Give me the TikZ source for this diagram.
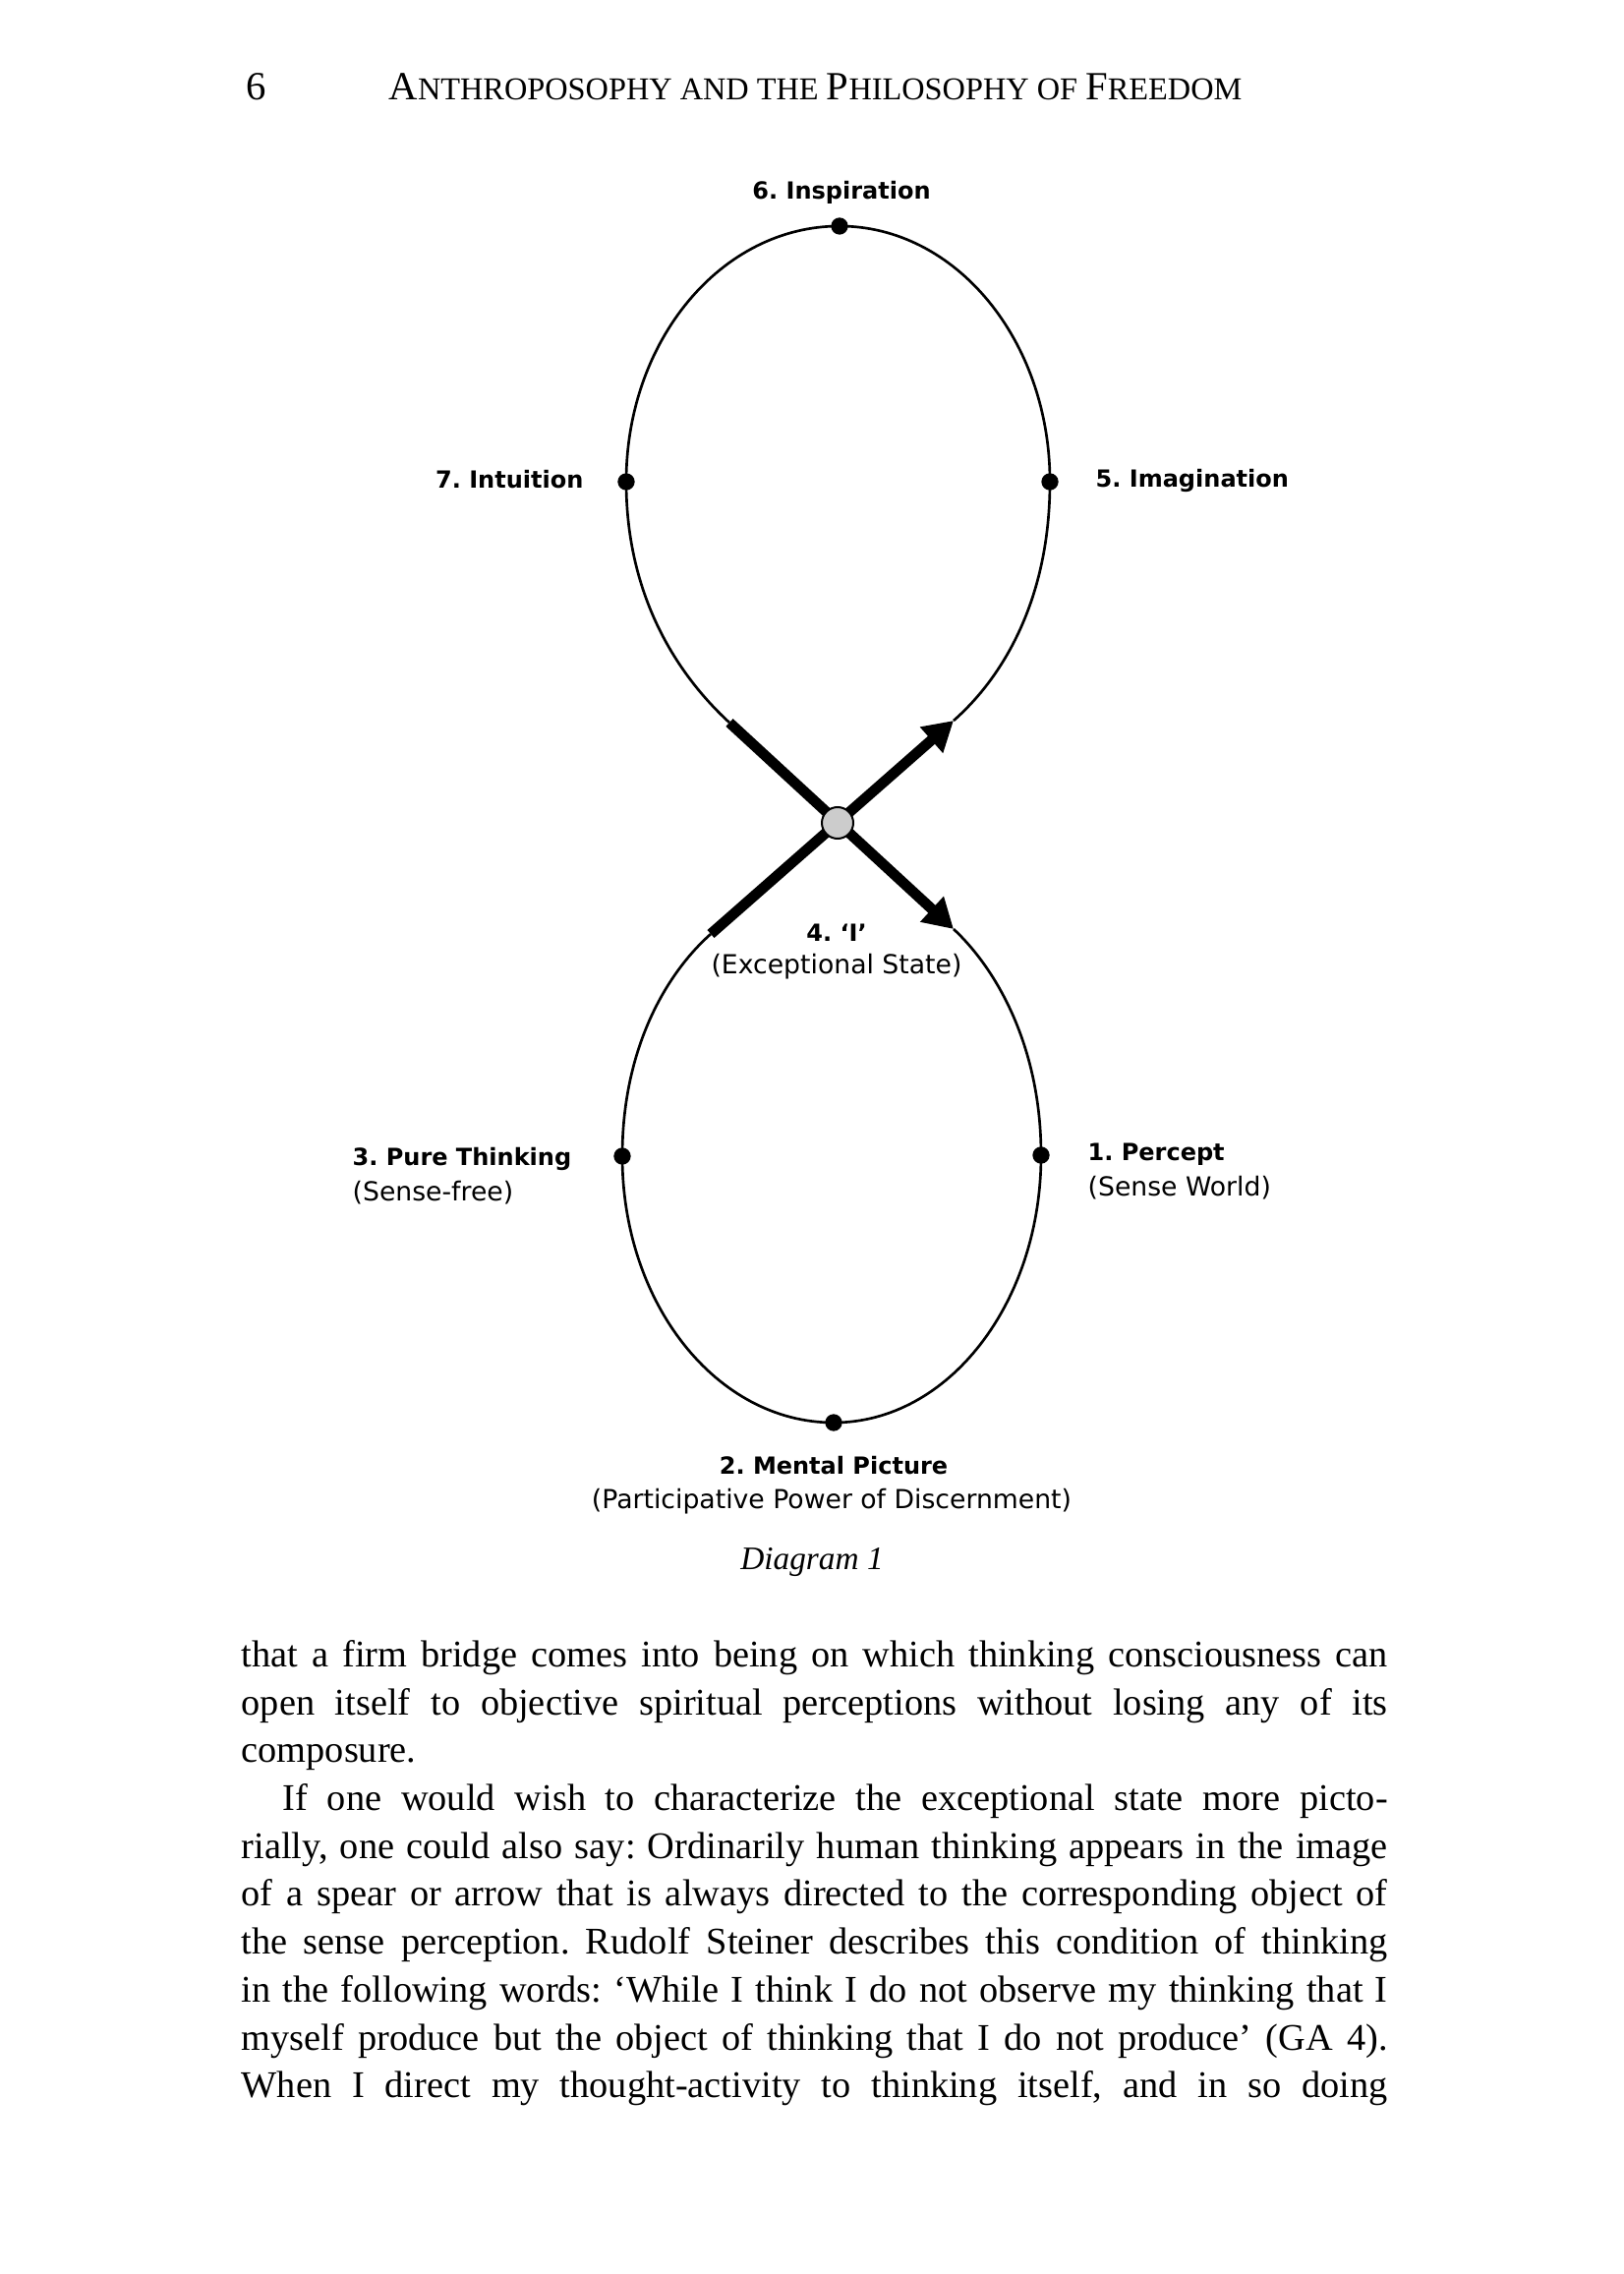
\documentclass[tikz,border=0pt]{standalone}
\usepackage{fontspec}
\setmainfont{Liberation Serif}
\newfontfamily\labfont{DejaVu Sans}
\usetikzlibrary{arrows.meta}
\newcommand\hdbig[1]{{\fontsize{12.2}{12}\selectfont #1}}
\newcommand\hdsmall[1]{{\fontsize{9.7}{12}\selectfont #1}}
\tikzset{
  curve/.style={line width=0.8pt},
  spear/.style={line width=3.2pt, line cap=butt},
  spearhead/.style={-{Triangle[length=9pt,width=10pt]}},
  dot/.style={circle, fill=black, inner sep=0pt, minimum size=5.2pt},
  hub/.style={circle, fill=gray!40, draw=black, line width=0.6pt, inner sep=0pt, minimum size=9.6pt},
  labbold/.style={inner sep=0pt, font=\labfont\bfseries\fontsize{7.2}{9}\selectfont},
  labreg/.style={inner sep=0pt, font=\labfont\fontsize{8}{9}\selectfont},
  bodytext/.style={inner sep=0pt, anchor=base west, font=\fontsize{11.5}{14}\selectfont},
  header/.style={inner sep=0pt, anchor=base west},
}
\newcommand\jline[1]{\makebox[349.8pt][s]{#1}}
\frenchspacing
\begin{document}
\begin{tikzpicture}[x=0.3pt,y=-0.3pt]
\useasboundingbox[fill=white] (0,0) rectangle (1652,2313);

% header
\node[header, font=\fontsize{12.2}{12}\selectfont] (pageno) at (250,102) {6};
\node[header] (title) at (395,102) {\hdbig{A}\hdsmall{NTHROPOSOPHY AND THE }\hdbig{P}\hdsmall{HILOSOPHY OF }\hdbig{F}\hdsmall{REEDOM}};

% key points
\coordinate (c6) at (854,230);
\coordinate (c7) at (637,490);
\coordinate (c5) at (1068,490);
\coordinate (ul) at (742,735);
\coordinate (ur) at (970,733);
\coordinate (ll) at (723,950);
\coordinate (lr) at (970,945);
\coordinate (c3) at (633,1176);
\coordinate (c1) at (1059,1175);
\coordinate (c2) at (848,1447);

% upper loop
\draw[curve] (ul) .. controls (692,689) and (637,610) .. (c7)
  .. controls (637,346) and (734,230) .. (c6)
  .. controls (972,230) and (1068,346) .. (c5)
  .. controls (1068,610) and (1020,689) .. (ur);
% lower loop
\draw[curve] (ll) .. controls (678,990) and (633,1066) .. (c3)
  .. controls (633,1326) and (729,1447) .. (c2)
  .. controls (965,1447) and (1059,1325) .. (c1)
  .. controls (1059,1065) and (1014,986) .. (lr);

% spears
\draw[spear, spearhead] (ul) -- (lr);
\draw[spear, spearhead] (ll) -- (ur);

% dots
\node[dot] (d6) at (c6) {};
\node[dot] (d7) at (c7) {};
\node[dot] (d5) at (c5) {};
\node[dot] (d3) at (c3) {};
\node[dot] (d1) at (c1) {};
\node[dot] (d2) at (c2) {};
\node[hub] (ich) at (852,837) {};

% labels
\node[labbold, anchor=base] (l6) at (856,203) {6. Inspiration};
\node[labbold, anchor=base east] (l7) at (594,497) {7. Intuition};
\node[labbold, anchor=base west] (l5) at (1114,496) {5. Imagination};
\node[labbold, anchor=base] (l4a) at (851,957) {4. ‘I’};
\node[labreg, anchor=base] (l4b) at (851,990) {(Exceptional State)};
\node[labbold, anchor=base west] (l3a) at (358,1185) {3. Pure Thinking};
\node[labreg, anchor=base west] (l3b) at (358,1221) {(Sense-free)};
\node[labbold, anchor=base west] (l1a) at (1106,1180) {1. Percept};
\node[labreg, anchor=base west] (l1b) at (1106,1216) {(Sense World)};
\node[labbold, anchor=base] (l2a) at (848,1499) {2. Mental Picture};
\node[labreg, anchor=base] (l2b) at (846,1534) {(Participative Power of Discernment)};
\node[inner sep=0pt, anchor=base, font=\itshape\fontsize{10}{12}\selectfont] (caption) at (826,1596) {Diagram 1};

% body text
\node[bodytext] (b1) at (245,1695) {\jline{that a firm bridge comes into being on which thinking consciousness can}};
\node[bodytext] (b2) at (245,1744) {\jline{open itself to objective spiritual perceptions without losing any of its}};
\node[bodytext] (b3) at (245,1792) {composure.};
\node[bodytext] (b4) at (245,1841) {\jline{\hspace*{12.6pt}If one would wish to characterize the exceptional state more picto-}};
\node[bodytext] (b5) at (245,1890) {\jline{rially, one could also say: Ordinarily human thinking appears in the image}};
\node[bodytext] (b6) at (245,1938) {\jline{of a spear or arrow that is always directed to the corresponding object of}};
\node[bodytext] (b7) at (245,1987) {\jline{the sense perception. Rudolf Steiner describes this condition of thinking}};
\node[bodytext] (b8) at (245,2036) {\jline{in the following words: ‘While I think I do not observe my thinking that I}};
\node[bodytext] (b9) at (245,2085) {\jline{myself produce but the object of thinking that I do not produce’ (GA 4).}};
\node[bodytext] (b10) at (245,2133) {\jline{When I direct my thought-activity to thinking itself, and in so doing}};
\end{tikzpicture}
\end{document}
